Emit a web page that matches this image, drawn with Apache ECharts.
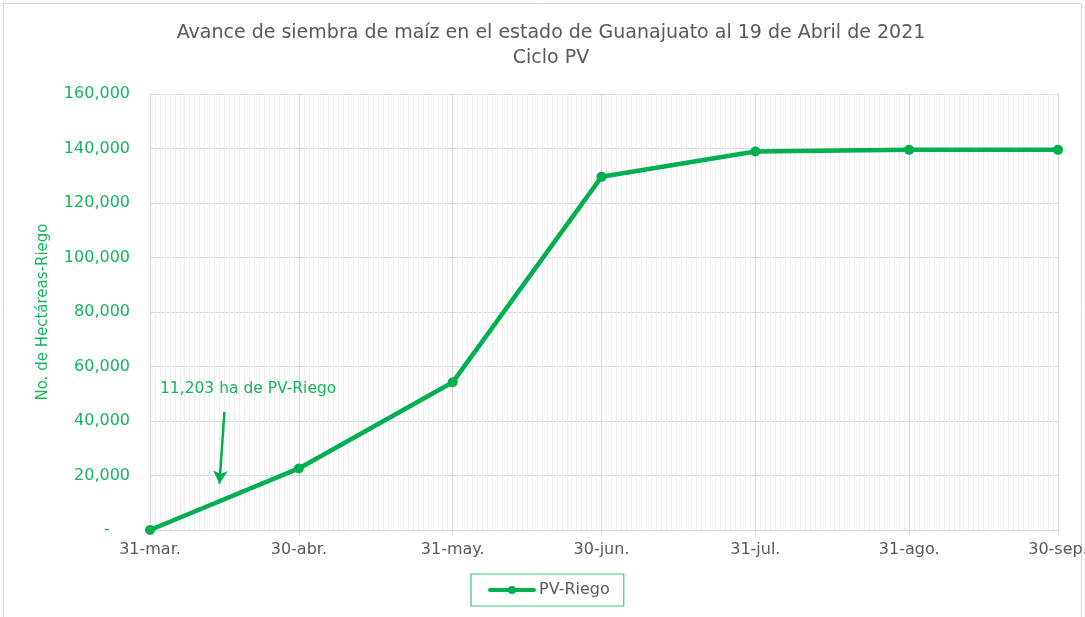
<!DOCTYPE html>
<html>
<head>
<meta charset="utf-8">
<script src="https://cdn.jsdelivr.net/npm/echarts@6/dist/echarts.min.js"></script>
<style>
html,body{margin:0;padding:0;background:#fff;}
#chart{width:1085px;height:617px;}
</style>
</head>
<body>
<div id="chart"></div>
<script>
// ---- data ----
const startDate = '2021-03-31';
const endDate = '2021-09-30';
const pointDates = ['2021-03-31','2021-04-30','2021-05-31','2021-06-30','2021-07-31','2021-08-31','2021-09-30'];
const tickLabels = ['31-mar.','30-abr.','31-may.','30-jun.','31-jul.','31-ago.','30-sep.'];
const pvRiego = [0, 22600, 54200, 129600, 138900, 139500, 139500];
const yTicks = [0, 20000, 40000, 60000, 80000, 100000, 120000, 140000, 160000];
const annotationText = '11,203 ha de PV-Riego';
const annotationFrom = ['2021-04-15', 43300];
const annotationTo = ['2021-04-14', 17000];

// ---- build daily categories ----
function isoDay(d){ return d.toISOString().slice(0,10); }
const days = [];
for (let d = new Date(startDate + 'T00:00:00Z'); d <= new Date(endDate + 'T00:00:00Z'); d.setUTCDate(d.getUTCDate()+1)) {
  days.push(isoDay(d));
}
const labelMap = {};
pointDates.forEach((d,i)=>{ labelMap[d] = tickLabels[i]; });
const isMajor = (idx, val) => labelMap[val] !== undefined;

const green = '#00b050';
const labelGreen = '#14b85a';
const gridGray = '#d9d9d9';
const minorGray = '#efefef';
const font = 'DejaVu Sans';

const chart = echarts.init(document.getElementById('chart'), null, {renderer:'canvas'});
chart.setOption({
  backgroundColor: '#fff',
  animation: false,
  textStyle: { fontFamily: font },
  title: {
    text: 'Avance de siembra de maíz en el estado de Guanajuato al 19 de Abril de 2021\nCiclo PV',
    left: 546, textAlign: 'center',
    top: 16,
    textStyle: { fontFamily: font, fontSize: 19, fontWeight: 'normal', color: '#595959', lineHeight: 25 }
  },
  grid: { left: 150, right: 27, top: 94, bottom: 87, containLabel: false, outerBoundsMode: 'none' },
  legend: {
    left: 471, top: 574,
    padding: [8, 14, 8, 17],
    borderColor: '#3cc774', borderWidth: 1.2,
    itemWidth: 44, itemHeight: 10,
    lineStyle: { width: 4 },
    textStyle: { fontFamily: font, fontSize: 16, color: '#595959' },
    data: ['PV-Riego']
  },
  xAxis: [
    {
      type: 'category', data: days, boundaryGap: false, position: 'bottom',
      axisLine: { show: false }, axisTick: { show: false }, axisLabel: { show: false },
      splitLine: { show: true, interval: 0, lineStyle: { color: minorGray, width: 1 } }
    },
    {
      type: 'category', data: days, boundaryGap: false, position: 'bottom',
      axisLine: { show: true, lineStyle: { color: gridGray, width: 1 } },
      axisTick: { show: true, interval: isMajor, length: 5, lineStyle: { color: gridGray } },
      axisLabel: { show: true, interval: isMajor, margin: 12, fontFamily: font, fontSize: 16, color: '#595959',
        hideOverlap: false, formatter: v => labelMap[v] || '' },
      splitLine: { show: true, interval: isMajor, lineStyle: { color: gridGray, width: 1 } }
    }
  ],
  yAxis: {
    type: 'value', min: yTicks[0], max: yTicks[yTicks.length-1], interval: yTicks[1]-yTicks[0],
    name: 'No. de Hectáreas-Riego', nameLocation: 'middle', nameGap: 99,
    nameTextStyle: { fontFamily: font, fontSize: 15, color: labelGreen },
    axisLine: { show: true, lineStyle: { color: gridGray } },
    axisTick: { show: false },
    axisLabel: { margin: 20, fontFamily: font, fontSize: 16, color: labelGreen,
      formatter: v => v === 0 ? '-    ' : v.toLocaleString('en-US') },
    splitLine: { show: true, lineStyle: { color: gridGray, width: 1 } }
  },
  series: [{
    name: 'PV-Riego', type: 'line', xAxisIndex: 1,
    data: pointDates.map((d,i)=>[d, pvRiego[i]]),
    symbol: 'circle', symbolSize: 10,
    lineStyle: { color: green, width: 4.5, cap: 'round' },
    itemStyle: { color: green },
    markLine: {
      silent: true, symbol: ['none','arrow'], symbolSize: [11, 13],
      lineStyle: { color: green, width: 2.5, type: 'solid' },
      label: { show: false },
      data: [[ { coord: annotationFrom }, { coord: annotationTo } ]]
    }
  }],
  graphic: [
    { type: 'rect', shape: { x: 3.5, y: 3.5, width: 1078, height: 640 }, style: { fill: 'none', stroke: gridGray, lineWidth: 1 }, silent: true },
    { type: 'text', left: 160, top: 381, z: 100, silent: true,
      style: { text: annotationText, fontFamily: font, fontSize: 15.5, fill: labelGreen, stroke: null, lineWidth: 0 } }
  ]
});
</script>
</body>
</html>
